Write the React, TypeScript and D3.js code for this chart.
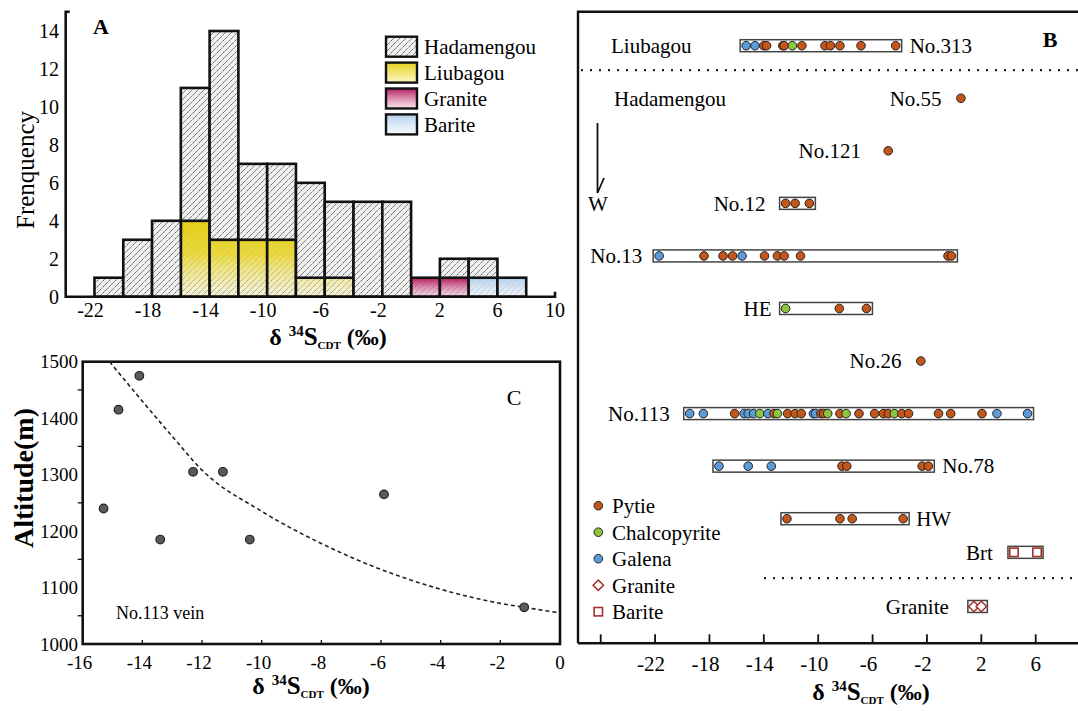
import React from "react";
import * as d3 from "d3";

const FONT = "Liberation Serif, Tinos, Times New Roman, Times, DejaVu Serif, serif";

// ---- Panel A : histogram of d34S (bin starts, 2 permil wide)
const binStarts = [-22, -20, -18, -16, -14, -12, -10, -8, -6, -4, -2, 0, 2, 4, 6];
const hadamengou = [1, 3, 4, 7, 11, 4, 4, 5, 4, 5, 5, 0, 1, 1, 0];
const liubagou = [0, 0, 0, 4, 3, 3, 3, 1, 1, 0, 0, 0, 0, 0, 0];
const graniteCounts = [0, 0, 0, 0, 0, 0, 0, 0, 0, 0, 0, 1, 1, 0, 0];
const bariteCounts = [0, 0, 0, 0, 0, 0, 0, 0, 0, 0, 0, 0, 0, 1, 1];
const freqTicks = [0, 2, 4, 6, 8, 10, 12, 14];
const histTicks = [-22, -18, -14, -10, -6, -2, 2, 6, 10];
const histLegend = ["Hadamengou", "Liubagou", "Granite", "Barite"];

// ---- Panel C : altitude vs d34S, No.113 vein
const veinD34S = [-15.3, -14.8, -14.1, -13.4, -12.3, -11.3, -10.4, -5.9, -1.2];
const veinAlt = [1240, 1415, 1475, 1185, 1305, 1305, 1185, 1265, 1065];
const trendD34S = [-15.1, -14, -13, -12, -10, -8, -6, -4, -2, -1.2, 0];
const trendAlt = [1500, 1430, 1368, 1308, 1235, 1178, 1132, 1097, 1072, 1065, 1055];
const altTicks = [1000, 1100, 1200, 1300, 1400, 1500];
const altMinor = [1050, 1150, 1250, 1350, 1450];
const altXTicks = [-16, -14, -12, -10, -8, -6, -4, -2, 0];

// ---- Panel B : d34S by vein (value, mineral)
type Pt = [number, string];
const no313: Pt[] = [[-15.3, "gn"], [-14.65, "gn"], [-14.0, "py"], [-13.8, "py"], [-12.6, "py"], [-12.5, "py"], [-11.9, "cp"], [-11.2, "py"], [-9.5, "py"], [-9.1, "py"], [-8.4, "py"], [-6.85, "py"], [-4.3, "py"]];
const no55: Pt[] = [[0.5, "py"]];
const no121: Pt[] = [[-4.85, "py"]];
const no12: Pt[] = [[-12.4, "py"], [-11.7, "py"], [-10.65, "py"]];
const no13: Pt[] = [[-21.7, "gn"], [-18.4, "py"], [-17.0, "py"], [-16.3, "py"], [-15.6, "gn"], [-13.95, "py"], [-13.0, "py"], [-12.5, "py"], [-11.3, "py"], [-0.45, "py"], [-0.2, "py"]];
const he: Pt[] = [[-12.4, "cp"], [-8.45, "py"], [-6.45, "py"]];
const no26: Pt[] = [[-2.45, "py"]];
const no113: Pt[] = [[-19.45, "gn"], [-18.45, "gn"], [-16.15, "py"], [-15.45, "gn"], [-15.15, "gn"], [-14.75, "gn"], [-14.3, "cp"], [-13.7, "gn"], [-13.25, "py"], [-13.0, "cp"], [-12.25, "py"], [-11.7, "py"], [-11.25, "py"], [-10.35, "gn"], [-10.2, "gn"], [-9.8, "py"], [-9.6, "py"], [-9.3, "cp"], [-8.4, "py"], [-7.95, "cp"], [-7.0, "py"], [-5.85, "py"], [-5.2, "py"], [-4.85, "py"], [-4.4, "cp"], [-3.85, "py"], [-3.35, "py"], [-1.15, "py"], [-0.25, "py"], [2.05, "py"], [3.15, "gn"], [5.4, "gn"]];
const no78: Pt[] = [[-17.3, "gn"], [-15.15, "gn"], [-13.45, "gn"], [-8.25, "py"], [-7.9, "py"], [-2.35, "py"], [-1.9, "py"]];
const hw: Pt[] = [[-12.3, "py"], [-8.4, "py"], [-7.5, "py"], [-3.75, "py"]];
const brt: Pt[] = [[4.4, "brt"], [6.1, "brt"]];
const graniteB: Pt[] = [[1.45, "gr"], [2.0, "gr"]];
const bTicks = [-26, -22, -18, -14, -10, -6, -2, 2, 6];
const bLegend: [string, string][] = [["py", "Pytie"], ["cp", "Chalcopyrite"], ["gn", "Galena"], ["gr", "Granite"], ["brt", "Barite"]];

const mineralColor: Record<string, string> = { py: "#c5561a", cp: "#8cc63e", gn: "#5b9bd6" };
const darkRed = "#a4302c";

// row layout of panel B (row index -> y through a linear scale)
const rowsB = [
  { name: "No.313", data: no313, row: 0, side: "right", gap: 8 },
  { name: "No.55", data: no55, row: 1, side: "left", gap: 15 },
  { name: "No.121", data: no121, row: 2, side: "left", gap: 23 },
  { name: "No.12", data: no12, row: 3, side: "left", gap: 14 },
  { name: "No.13", data: no13, row: 4, side: "left", gap: 11 },
  { name: "HE", data: he, row: 5, side: "left", gap: 8 },
  { name: "No.26", data: no26, row: 6, side: "left", gap: 15 },
  { name: "No.113", data: no113, row: 7, side: "left", gap: 14 },
  { name: "No.78", data: no78, row: 8, side: "right", gap: 8 },
  { name: "HW", data: hw, row: 9, side: "right", gap: 7 },
  { name: "Brt", data: brt, row: 9.64, side: "left", gap: 15 },
  { name: "Granite", data: graniteB, row: 10.67, side: "left", gap: 19 },
];

const D34Title = ({ x, y }: { x: number; y: number }) => (
  <text x={x} y={y} textAnchor="middle" fontWeight="bold" fontSize={24} style={{ fontFamily: FONT }}>
    δ
    <tspan dx={7} dy={-9} fontSize={15}>34</tspan>
    <tspan dy={9} fontSize={25}>S</tspan>
    <tspan dy={4} fontSize={11}>CDT</tspan>
    <tspan dy={-4} fontSize={24}> (‰)</tspan>
  </text>
);

function Marker({ kind, x, y }: { kind: string; x: number; y: number }) {
  if (kind === "brt") {
    return <rect x={x - 4.2} y={y - 4.2} width={8.4} height={8.4} fill="#fff" stroke={darkRed} strokeWidth={1.6} />;
  }
  if (kind === "gr") {
    const s = 5.2;
    return <path d={`M${x},${y - s}L${x + s},${y}L${x},${y + s}L${x - s},${y}Z`} fill="#fff" stroke={darkRed} strokeWidth={1.5} />;
  }
  return <circle cx={x} cy={y} r={4.3} fill={mineralColor[kind]} stroke="#222" strokeWidth={1} />;
}

export default function App() {
  // ---------- Panel A scales
  const xA = d3.scaleLinear().domain([-24, 10]).range([65.7, 555]);
  const yA = d3.scaleLinear().domain([0, 14]).range([296.7, 31]);
  const table = binStarts.map((b, i) => ({
    bin: b,
    Liubagou: liubagou[i],
    Granite: graniteCounts[i],
    Barite: bariteCounts[i],
    Hadamengou: hadamengou[i],
  }));
  const stacked = d3.stack<any>().keys(["Liubagou", "Granite", "Barite", "Hadamengou"])(table);
  const fillFor: Record<string, string> = {
    Liubagou: "url(#gYellow)",
    Granite: "url(#gPink)",
    Barite: "url(#gBlue)",
    Hadamengou: "none",
  };

  // ---------- Panel C scales
  const xC = d3.scaleLinear().domain([-16, 0]).range([82.7, 560]);
  const yC = d3.scaleLinear().domain([1000, 1500]).range([644, 361.7]);
  const trend = d3
    .line<number>()
    .x((d) => xC(d))
    .y((_, i) => yC(trendAlt[i]))
    .curve(d3.curveMonotoneX)(trendD34S);

  // ---------- Panel B scales
  const xB = d3.scaleLinear().domain([-26, 6]).range([600.7, 1035.7]);
  const yB = d3.scaleLinear().domain([0, 9]).range([45.7, 518.7]);
  const axisYB = 643.3;

  return (
    <svg width={1078} height={711} style={{ position: "absolute", left: 0, top: 0, background: "#fff", fontFamily: FONT }}>
      <defs>
        <pattern id="hatch" patternUnits="userSpaceOnUse" width={6} height={6}>
          <rect width={6} height={6} fill="#f0f0f0" />
          <path d="M-1,7L7,-1M-1,1L1,-1M5,7L7,5" stroke="#222" strokeWidth={0.8} strokeDasharray="2 1" />
        </pattern>
        <linearGradient id="gYellow" gradientUnits="userSpaceOnUse" x1={0} y1={yA(4)} x2={0} y2={yA(0)}>
          <stop offset="0" stopColor="#e5cf16" stopOpacity={1} />
          <stop offset="0.45" stopColor="#e8d630" stopOpacity={0.9} />
          <stop offset="1" stopColor="#f7f0b0" stopOpacity={0.35} />
        </linearGradient>
        <linearGradient id="gYellowL" x1={0} y1={0} x2={0} y2={1}>
          <stop offset="0" stopColor="#e8d420" />
          <stop offset="1" stopColor="#fbf6c6" />
        </linearGradient>
        <linearGradient id="gPink" x1={0} y1={0} x2={0} y2={1}>
          <stop offset="0" stopColor="#b3175d" stopOpacity={1} />
          <stop offset="1" stopColor="#f3c5d9" stopOpacity={0.55} />
        </linearGradient>
        <linearGradient id="gBlue" x1={0} y1={0} x2={0} y2={1}>
          <stop offset="0" stopColor="#b3d0ec" stopOpacity={1} />
          <stop offset="1" stopColor="#eef5fc" stopOpacity={0.6} />
        </linearGradient>
      </defs>

      {/* ================= Panel A ================= */}
      <g>
        {stacked.map((s) =>
          s
            .filter((d) => d[1] > d[0])
            .map((d, i) => {
              const x0 = xA(d.data.bin);
              const w = xA(d.data.bin + 2) - x0;
              const y1 = yA(d[1]);
              const h = yA(d[0]) - y1;
              return (
                <g key={s.key + "-" + i}>
                  <rect x={x0} y={y1} width={w} height={h} fill="url(#hatch)" />
                  {fillFor[s.key] !== "none" && <rect x={x0} y={y1} width={w} height={h} fill={fillFor[s.key]} />}
                  <rect x={x0} y={y1} width={w} height={h} fill="none" stroke="#111" strokeWidth={2.6} />
                </g>
              );
            })
        )}
        <path
          d={`M${xA(-24) + 4},11.7H${xA(-24)}V${yA(0)}H${xA(10)}V${yA(0) - 5}`}
          fill="none"
          stroke="#111"
          strokeWidth={2.6}
        />
        {freqTicks.map((t) => (
          <text key={t} x={59} y={yA(t)} dy="0.35em" textAnchor="end" fontSize={20}>
            {t}
          </text>
        ))}
        {histTicks.map((t) => (
          <text key={t} x={xA(t) - (t < 0 ? 4 : 0)} y={317} textAnchor="middle" fontSize={20}>
            {t}
          </text>
        ))}
        <text x={101} y={34} textAnchor="middle" fontSize={22} fontWeight="bold">
          A
        </text>
        <text transform="translate(34,170) rotate(-90)" textAnchor="middle" fontSize={25}>
          Frenquency
        </text>
        <D34Title x={328} y={345} />
        {histLegend.map((k, i) => {
          const y0 = 36.7 + i * 25.9;
          const f = k === "Hadamengou" ? "url(#hatch)" : k === "Liubagou" ? "url(#gYellowL)" : k === "Granite" ? "url(#gPink)" : "url(#gBlue)";
          return (
            <g key={k}>
              <rect x={386} y={y0} width={31} height={20} fill="#fff" />
              <rect x={386} y={y0} width={31} height={20} fill={f} stroke="#111" strokeWidth={2.4} />
              <text x={424} y={y0 + 10} dy="0.35em" fontSize={21}>
                {k}
              </text>
            </g>
          );
        })}
      </g>

      {/* ================= Panel C ================= */}
      <g>
        <rect x={xC(-16)} y={yC(1500)} width={xC(0) - xC(-16)} height={yC(1000) - yC(1500)} fill="none" stroke="#111" strokeWidth={2.6} />
        {altMinor.map((t) => (
          <line key={t} x1={xC(-16) - 5} x2={xC(-16)} y1={yC(t)} y2={yC(t)} stroke="#111" strokeWidth={1.3} />
        ))}
        {altTicks.map((t) => (
          <text key={t} x={78} y={yC(t)} dy="0.35em" textAnchor="end" fontSize={19}>
            {t}
          </text>
        ))}
        {altXTicks.map((t) => (
          <g key={t}>
            {t > -16 && t < 0 && <line x1={xC(t)} x2={xC(t)} y1={yC(1000)} y2={yC(1000) - 4} stroke="#111" strokeWidth={1.3} />}
            <text x={xC(t) - (t < 0 ? 3 : 0)} y={669} textAnchor="middle" fontSize={19}>
              {t}
            </text>
          </g>
        ))}
        <path d={trend || ""} fill="none" stroke="#222" strokeWidth={1.6} strokeDasharray="4 3" />
        {veinD34S.map((v, i) => (
          <circle key={i} cx={xC(v)} cy={yC(veinAlt[i])} r={4.3} fill="#5a5a5a" stroke="#222" strokeWidth={1.2} />
        ))}
        <text x={514} y={405} textAnchor="middle" fontSize={22}>
          C
        </text>
        <text x={116} y={619} fontSize={18}>
          No.113 vein
        </text>
        <text transform="translate(33,478) rotate(-90)" textAnchor="middle" fontSize={28} fontWeight="bold">
          Altitude(m)
        </text>
        <D34Title x={311} y={694} />
      </g>

      {/* ================= Panel B ================= */}
      <g>
        <path d={`M578,${axisYB}V11.7H1078`} fill="none" stroke="#111" strokeWidth={2.4} />
        <line x1={578} x2={1078} y1={axisYB} y2={axisYB} stroke="#111" strokeWidth={2.6} />
        {bTicks.map((t) => (
          <g key={t}>
            <line x1={xB(t)} x2={xB(t)} y1={axisYB} y2={axisYB - 9} stroke="#111" strokeWidth={1.8} />
            {t > -26 && (
              <text x={xB(t) - (t < 0 ? 4 : 0)} y={671} textAnchor="middle" fontSize={21}>
                {t}
              </text>
            )}
          </g>
        ))}
        <D34Title x={871} y={700} />
        <text x={1050} y={47} textAnchor="middle" fontSize={22} fontWeight="bold">
          B
        </text>
        {/* separators */}
        <line x1={581} x2={1078} y1={yB(0.466)} y2={yB(0.466)} stroke="#222" strokeWidth={2.2} strokeDasharray="2 7" />
        <line x1={764} x2={1078} y1={yB(10.13)} y2={yB(10.13)} stroke="#222" strokeWidth={2.2} strokeDasharray="2 7" />
        <text x={611} y={yB(0)} dy="0.35em" fontSize={21}>
          Liubagou
        </text>
        <text x={614} y={yB(1)} dy="0.35em" fontSize={21}>
          Hadamengou
        </text>
        {/* W arrow */}
        <path d="M597.5,123V193L604,178" fill="none" stroke="#111" strokeWidth={1.8} />
        <text x={598} y={yB(3)} dy="0.35em" textAnchor="middle" fontSize={21}>
          W
        </text>
        {rowsB.map((r) => {
          const y = yB(r.row);
          const vals = r.data.map((d) => d[0]);
          const lo = xB(d3.min(vals) as number);
          const hi = xB(d3.max(vals) as number);
          const pad = 6;
          const hasBox = r.data.length > 1;
          const left = hasBox ? lo - pad : lo - 4.3;
          const right = hasBox ? hi + pad : hi + 4.3;
          const sorted = [...r.data].sort((a, b) => a[0] - b[0]);
          return (
            <g key={r.name}>
              {hasBox && (
                <rect x={left} y={y - 6} width={right - left} height={12} fill="#fff" stroke="#444" strokeWidth={1.5} />
              )}
              {sorted.map((d, i) => (
                <Marker key={i} kind={d[1]} x={xB(d[0])} y={y} />
              ))}
              <text
                x={r.side === "left" ? left - r.gap : right + r.gap}
                y={y}
                dy="0.35em"
                textAnchor={r.side === "left" ? "end" : "start"}
                fontSize={21}
              >
                {r.name}
              </text>
            </g>
          );
        })}
        {bLegend.map(([k, label], i) => {
          const y = 505.7 + i * 26.5;
          return (
            <g key={k}>
              <Marker kind={k} x={598.3} y={y} />
              <text x={612} y={y} dy="0.35em" fontSize={21}>
                {label}
              </text>
            </g>
          );
        })}
      </g>
    </svg>
  );
}
